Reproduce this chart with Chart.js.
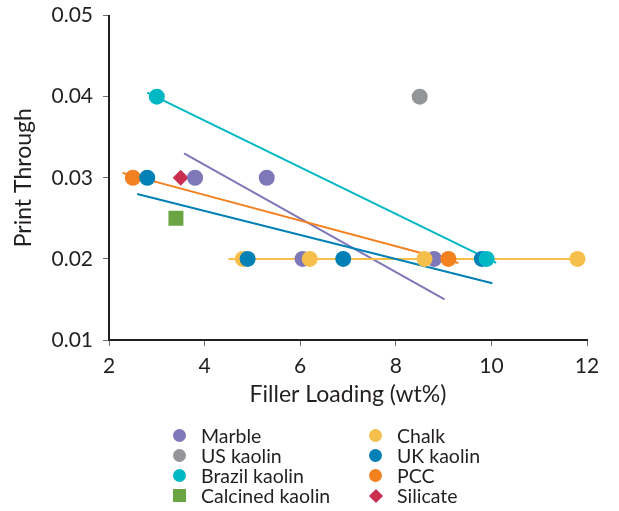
<!DOCTYPE html>
<html>
<head>
<meta charset="utf-8">
<script src="https://cdn.jsdelivr.net/npm/chart.js@4"></script>
<style>
  html, body { margin: 0; padding: 0; background: #fff; }
  #wrap { position: relative; width: 619px; height: 511px; }
  #legend { position: absolute; left: 0; top: 0; font-family: Lato, sans-serif; font-size: 19.5px; color: #231F20; }
  .item { position: absolute; height: 20px; line-height: 20px; white-space: nowrap; }
  .mark { position: absolute; left: -28px; top: 3.5px; width: 13px; height: 13px; }
</style>
</head>
<body>
<div id="wrap">
  <canvas id="chart" width="619" height="511"></canvas>
  <div id="legend"></div>
</div>
<script>
// tick values
const xTicks = [2, 4, 6, 8, 10, 12];
const yTicks = [0.01, 0.02, 0.03, 0.04, 0.05];

// measured points, filler loading (wt%) vs print through
const marbleX = [3.8, 5.3, 6.05, 8.8];
const marbleY = [0.03, 0.03, 0.02, 0.02];
const usKaolinX = [8.5];
const usKaolinY = [0.04];
const brazilX = [3.0, 9.9];
const brazilY = [0.04, 0.02];
const calcinedX = [3.4];
const calcinedY = [0.025];
const chalkX = [4.8, 6.2, 8.6, 11.8];
const chalkY = [0.02, 0.02, 0.02, 0.02];
const ukKaolinX = [2.8, 4.9, 6.9, 9.8];
const ukKaolinY = [0.03, 0.02, 0.02, 0.02];
const pccX = [2.5, 9.1];
const pccY = [0.03, 0.02];
const silicateX = [3.5];
const silicateY = [0.03];

// trend line ends
const marbleFitX = [3.57, 9.02];
const marbleFitY = [0.033, 0.015];
const brazilFitX = [2.8, 10.1];
const brazilFitY = [0.0405, 0.0195];
const chalkFitX = [4.5, 11.95];
const chalkFitY = [0.02, 0.02];
const ukFitX = [2.59, 10.02];
const ukFitY = [0.028, 0.017];
const pccFitX = [2.28, 9.31];
const pccFitY = [0.0306, 0.0195];

const COL = {
    marble: '#7E77B8',
    us: '#949599',
    brazil: '#00B8C4',
    calcined: '#6BA543',
    chalk: '#F6BE4B',
    uk: '#0080B5',
    pcc: '#F48120',
    silicate: '#C9304F'
};
const TEXT = '#231F20';

const pts = (xs, ys) => xs.map((x, i) => ({ x, y: ys[i] }));

function pointSet(label, xs, ys, color, style, radius) {
    return {
        label, data: pts(xs, ys), showLine: false,
        pointStyle: style || 'circle', pointRadius: radius || 8,
        backgroundColor: color, borderColor: color, borderWidth: 0, order: 1
    };
}
function fitSet(xs, ys, color) {
    return {
        label: '', data: pts(xs, ys), showLine: true, pointRadius: 0,
        borderColor: color, borderWidth: 2, fill: false, order: 2
    };
}

const datasets = [
    pointSet('Brazil kaolin', brazilX, brazilY, COL.brazil),
    pointSet('UK kaolin', ukKaolinX, ukKaolinY, COL.uk),
    pointSet('Chalk', chalkX, chalkY, COL.chalk),
    pointSet('PCC', pccX, pccY, COL.pcc),
    pointSet('Marble', marbleX, marbleY, COL.marble),
    pointSet('US kaolin', usKaolinX, usKaolinY, COL.us),
    pointSet('Calcined kaolin', calcinedX, calcinedY, COL.calcined, 'rect', 10.6),
    pointSet('Silicate', silicateX, silicateY, COL.silicate, 'rectRot', 8),
    fitSet(brazilFitX, brazilFitY, COL.brazil),
    fitSet(ukFitX, ukFitY, COL.uk),
    fitSet(chalkFitX, chalkFitY, COL.chalk),
    fitSet(pccFitX, pccFitY, COL.pcc),
    fitSet(marbleFitX, marbleFitY, COL.marble)
];

const tickFont = { family: 'Lato, sans-serif', size: 21 };
const titleFont = { family: 'Lato, sans-serif', size: 23 };

new Chart(document.getElementById('chart'), {
    type: 'scatter',
    data: { datasets },
    options: {
        responsive: false,
        animation: false,
        layout: { padding: { left: 0, top: 15.5, right: 32, bottom: 103 } },
        plugins: { legend: { display: false }, tooltip: { enabled: false } },
        scales: {
            x: {
                min: 2, max: 12,
                afterBuildTicks: s => { s.ticks = xTicks.map(v => ({ value: v })); },
                afterFit: s => { s.height = 68; },
                grid: { drawOnChartArea: false, tickLength: 6, color: '#6d6e71', lineWidth: 1 },
                border: { color: TEXT, width: 2 },
                ticks: { color: TEXT, font: tickFont, padding: 8, maxRotation: 0 },
                title: { display: true, text: 'Filler Loading (wt%)', color: TEXT, font: titleFont, padding: 0 }
            },
            y: {
                min: 0.01, max: 0.05,
                afterBuildTicks: s => { s.ticks = yTicks.map(v => ({ value: v })); },
                afterFit: s => { s.width = 109; s.paddingTop = 0; s.paddingBottom = 0; },
                grid: { drawOnChartArea: false, tickLength: 6, color: '#6d6e71', lineWidth: 1 },
                border: { color: TEXT, width: 2 },
                ticks: { color: TEXT, font: tickFont, padding: 10, callback: v => v.toFixed(2) },
                title: { display: true, text: 'Print Through', color: TEXT, font: titleFont, padding: { top: 10, bottom: 0 } }
            }
        }
    }
});

// two column legend under the plot
const legendItems = [
    ['Marble', COL.marble, 'circle'], ['US kaolin', COL.us, 'circle'],
    ['Brazil kaolin', COL.brazil, 'circle'], ['Calcined kaolin', COL.calcined, 'square'],
    ['Chalk', COL.chalk, 'circle'], ['UK kaolin', COL.uk, 'circle'],
    ['PCC', COL.pcc, 'circle'], ['Silicate', COL.silicate, 'diamond']
];
const legendEl = document.getElementById('legend');
legendItems.forEach(([name, color, shape], i) => {
    const col = Math.floor(i / 4), row = i % 4;
    const item = document.createElement('div');
    item.className = 'item';
    item.style.left = (col ? 397 : 201) + 'px';
    item.style.top = (425.5 + row * 20) + 'px';
    const mark = document.createElement('span');
    mark.className = 'mark';
    mark.style.background = color;
    if (shape === 'circle') mark.style.borderRadius = '50%';
    if (shape === 'diamond') {
        mark.style.width = '10px'; mark.style.height = '10px';
        mark.style.left = '-26.5px'; mark.style.top = '5px';
        mark.style.transform = 'rotate(45deg)';
    }
    item.appendChild(mark);
    item.appendChild(document.createTextNode(name));
    legendEl.appendChild(item);
});
</script>
</body>
</html>
